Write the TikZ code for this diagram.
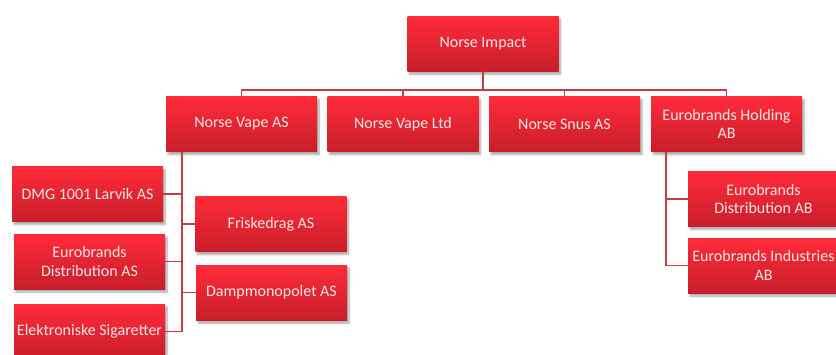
\documentclass[tikz,border=0pt]{standalone}
\usepackage{fontspec}
\setmainfont{Carlito}
\usetikzlibrary{shadows.blur}
\definecolor{boxtop}{HTML}{FF2B3A}
\definecolor{boxbot}{HTML}{C81E2A}
\definecolor{linec}{HTML}{C83C4A}
\definecolor{txtc}{HTML}{FCE6E8}
\tikzset{
  orgbox/.style={rectangle, minimum width=151pt, minimum height=55pt, inner sep=1pt,
    top color=boxtop, bottom color=boxbot, draw=none, text=txtc, align=center,
    font=\fontsize{16}{18.5}\selectfont,
    blur shadow={shadow xshift=2pt, shadow yshift=-3pt, shadow blur steps=6, shadow opacity=35}},
  conn/.style={draw=linec, line width=1.8pt}
}
\begin{document}
\begin{tikzpicture}[x=1pt,y=-1pt]
\useasboundingbox (0,0) rectangle (836,354);
\node[orgbox] (imp) at (483,43.5) {Norse Impact};
\node[orgbox] (nva) at (241.5,124) {Norse Vape AS};
\node[orgbox] (nvl) at (403,124) {Norse Vape Ltd};
\node[orgbox] (nsa) at (564.5,124) {Norse Snus AS};
\node[orgbox] (ehb) at (726.5,124) {Eurobrands Holding\\AB};
\node[orgbox] (dmg) at (87.5,194) {DMG 1001 Larvik AS};
\node[orgbox] (eda) at (89.5,261.5) {Eurobrands\\Distribution AS};
\node[orgbox] (els) at (89.5,331.5) {Elektroniske Sigaretter};
\node[orgbox] (fri) at (271,224) {Friskedrag AS};
\node[orgbox] (dam) at (271.5,292.5) {Dampmonopolet AS};
\node[orgbox] (edb) at (763.5,199) {Eurobrands\\Distribution AB};
\node[orgbox] (eib) at (763.5,265.5) {Eurobrands Industries\\AB};
\coordinate (sp) at (182,152);
\coordinate (sp2) at (666,152);
\draw[conn] (imp.south) -- ++(0,19) -| (nva.north);
\draw[conn] (imp.south) -- ++(0,19) -| (nvl.north);
\draw[conn] (imp.south) -- ++(0,19) -| (nsa.north);
\draw[conn] (imp.south) -- ++(0,19) -| (ehb.north);
\draw[conn] (sp) |- (dmg.east);
\draw[conn] (sp) |- (eda.east);
\draw[conn] (sp) |- (els.east);
\draw[conn] (sp) |- (fri.west);
\draw[conn] (sp) |- (dam.west);
\draw[conn] (sp2) |- (edb.west);
\draw[conn] (sp2) |- (eib.west);
\end{tikzpicture}
\end{document}
